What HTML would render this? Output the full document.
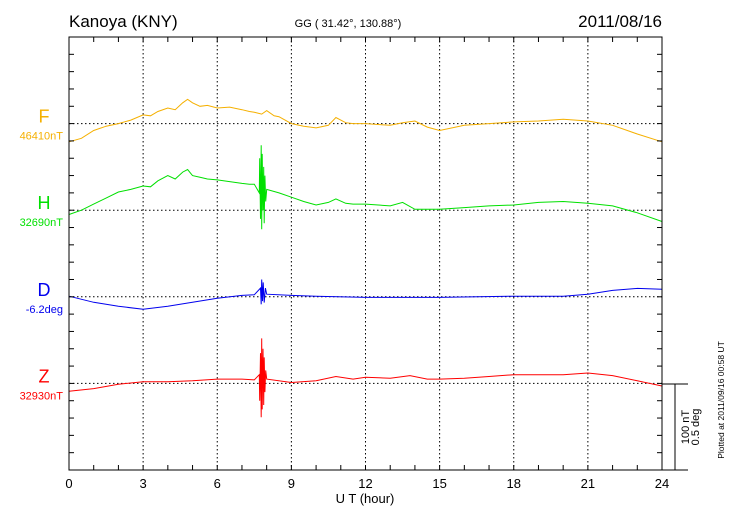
<!DOCTYPE html>
<html><head><meta charset="utf-8"><style>
html,body{margin:0;padding:0;background:#fff;}
svg{display:block;font-family:"Liberation Sans",sans-serif;}
</style></head><body>
<svg id="chart" width="730" height="520" viewBox="0 0 730 520">
<text x="69" y="27" font-size="17">Kanoya (KNY)</text>
<text x="348" y="27" font-size="11" text-anchor="middle">GG ( 31.42°, 130.88°)</text>
<text x="662" y="27" font-size="17" text-anchor="end">2011/08/16</text>
<g id="grid"></g>
<g id="series"></g>
<g id="axes"></g>
<text x="365" y="503" font-size="13" text-anchor="middle">U T (hour)</text>
<g>
<line x1="662" y1="384" x2="688" y2="384" stroke="#000" stroke-width="1"/>
<line x1="662" y1="470" x2="688" y2="470" stroke="#000" stroke-width="1"/>
<line x1="675" y1="384" x2="675" y2="470" stroke="#000" stroke-width="1"/>
<text transform="translate(689,427) rotate(-90)" font-size="11" text-anchor="middle">100 nT</text>
<text transform="translate(699,427) rotate(-90)" font-size="11" text-anchor="middle">0.5 deg</text>
</g>
<text transform="translate(724,400) rotate(-90)" font-size="8.5" text-anchor="middle">Plotted at 2011/09/16 00:58 UT</text>
</svg>
<script>
// data: hours and deviations (nT for F,H,Z; arcmin for D) from each baseline
const fHours = [0,0.5,1,1.5,2,2.5,3,3.3,3.6,4,4.3,4.6,4.8,5,5.3,5.6,6,6.5,7,7.3,7.5,7.8,8,8.3,8.5,9,9.5,10,10.5,10.8,11.2,11.5,12,12.5,13,13.5,14,14.5,15,16,17,18,19,20,21,22,23,24];
const fVals  = [-21,-17,-8,-3,0,4,10,9,14,18,16,24,28,24,20,21,18,19,16,14,13,11,15,9,8,0,-3,-5,-2,7,1,0,0,-1,-2,1,3,-4,-8,-2,0,2,3,5,3,-2,-12,-21];
const hHours = [0,0.5,1,1.5,2,2.5,3,3.3,3.6,4,4.3,4.6,4.8,5,5.3,5.6,6,6.5,7,7.3,7.5,7.7,7.72,7.75,7.78,7.8,7.82,7.85,7.88,7.9,7.93,7.96,8,8.5,9,9.5,10,10.5,10.8,11.2,11.5,12,13,13.5,14,15,16,17,18,19,20,21,22,23,24];
const hVals  = [-5,0,7,14,21,24,28,27,34,40,36,44,47,40,38,36,35,33,31,30,30,20,60,-10,75,-22,65,0,50,-15,40,10,24,20,15,10,6,9,13,8,7,7,5,9,1,1,3,5,6,9,10,8,5,-3,-13];
const dHours = [0,1,2,3,4,5,6,7,7.5,7.75,7.78,7.8,7.83,7.86,7.9,7.95,8,9,10,12,15,18,20,21,22,23,24];
const dVals  = [0.2,-1.9,-3.3,-4.3,-3.3,-1.9,-0.5,0.5,0.7,3,-2.6,6,-1.5,5,-2,3,0.9,0.5,0.2,-0.2,-0.2,0.2,0.2,0.9,2.2,2.9,2.6];
const zHours = [0,1,2,3,4,5,6,7,7.5,7.7,7.72,7.75,7.78,7.8,7.82,7.85,7.88,7.9,7.93,7.96,8,9,10,10.8,11.5,12,13,13.8,14.5,15,16,17,18,19,20,21,22,23,24];
const zVals  = [-9,-6,-1,2,2,3,5,5,4,10,-20,35,-39,52,-30,40,-25,30,-10,15,5,1,3,8,5,7,6,9,5,5,6,8,10,10,10,12,9,3,-3];
const xTickLabels = ["0","3","6","9","12","15","18","21","24"];

const L=69,R=662,T=37,B=470, tick=(B-T)/25, pxPerNT=tick/20, pxPerMin=tick*5/30;
const xs=h=>L+(R-L)*h/24;
const svg=document.getElementById('chart');
const NS='http://www.w3.org/2000/svg';
function mk(tag,attrs,parent){const e=document.createElementNS(NS,tag);for(const k in attrs)e.setAttribute(k,attrs[k]);parent.appendChild(e);return e;}
const grid=document.getElementById('grid'), axes=document.getElementById('axes'), ser=document.getElementById('series');
for(let i=1;i<8;i++){const x=xs(i*3);const l=mk('line',{x1:x,y1:T,x2:x,y2:B,stroke:'#000','stroke-width':1,'stroke-dasharray':'1.5,2.5'},grid);

}
const bases=[T+5*tick,T+10*tick,T+15*tick,T+20*tick];
bases.forEach(b=>{const l=mk('line',{x1:L,y1:b,x2:R,y2:b,stroke:'#000','stroke-width':1,'stroke-dasharray':'1.5,2.5'},grid);

});
const fr=mk('rect',{x:L,y:T,width:R-L,height:B-T,fill:'none',stroke:'#000','stroke-width':1},axes);


for(let h=1;h<24;h++){const x=xs(h);mk('line',{x1:x,y1:T,x2:x,y2:T+5,stroke:'#000'},axes);mk('line',{x1:x,y1:B,x2:x,y2:B-5,stroke:'#000'},axes);}
for(let i=1;i<25;i++){const y=T+i*tick;mk('line',{x1:L,y1:y,x2:L+5,y2:y,stroke:'#000'},axes);mk('line',{x1:R,y1:y,x2:R-5,y2:y,stroke:'#000'},axes);}
xTickLabels.forEach((t,i)=>{const tx=mk('text',{x:xs(i*3),y:488,'font-size':13,'text-anchor':'middle'},axes);tx.textContent=t;

});
const defs=[
 {h:fHours,v:fVals,b:bases[0],s:pxPerNT,c:'#f5b000',n:'F',u:'46410nT',name:'f'},
 {h:hHours,v:hVals,b:bases[1],s:pxPerNT,c:'#00e000',n:'H',u:'32690nT',name:'h'},
 {h:dHours,v:dVals,b:bases[2],s:pxPerMin,c:'#0000ee',n:'D',u:'-6.2deg',name:'d'},
 {h:zHours,v:zVals,b:bases[3],s:pxPerNT,c:'#ff0000',n:'Z',u:'32930nT',name:'z'}];
defs.forEach(d=>{
 const pts=d.h.map((h,i)=>xs(h).toFixed(1)+','+(d.b-d.v[i]*d.s).toFixed(1)).join(' ');
 const p=mk('polyline',{points:pts,fill:'none',stroke:d.c,'stroke-width':1},ser);
 
 
 const t1=mk('text',{x:44,y:d.b-1,'font-size':18,'text-anchor':'middle',fill:d.c},svg);t1.textContent=d.n;
 
 
 const t2=mk('text',{x:63,y:d.b+16,'font-size':11,'text-anchor':'end',fill:d.c},svg);t2.textContent=d.u;
 
 
});
</script>
</body></html>
